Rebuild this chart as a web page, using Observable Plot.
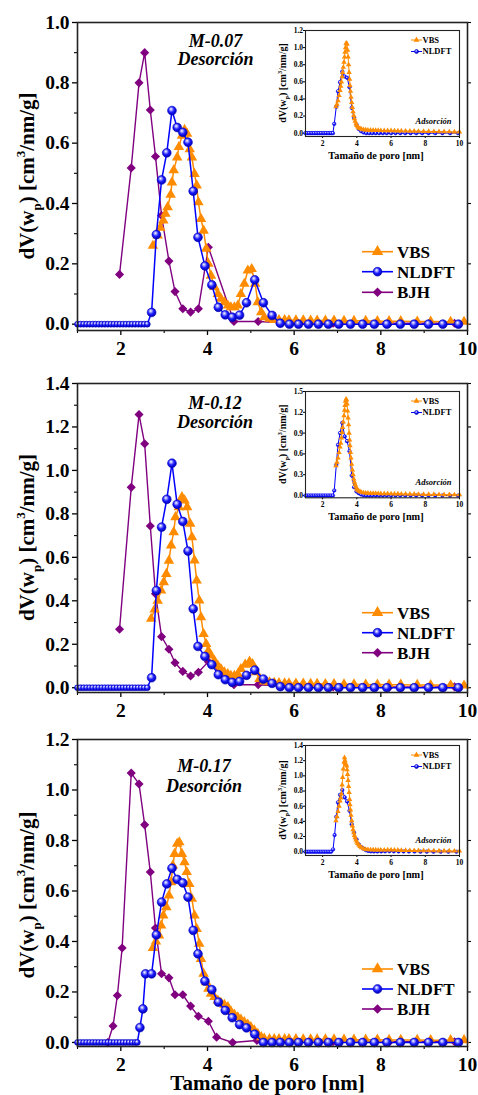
<!DOCTYPE html>
<html><head><meta charset="utf-8">
<script src="https://cdn.jsdelivr.net/npm/d3@7"></script>
<script src="https://cdn.jsdelivr.net/npm/@observablehq/plot@0.6"></script>
<style>
body{margin:0;background:#fff;}
#wrap{position:relative;width:478px;height:1095px;overflow:hidden;background:#fff;}
</style></head><body><div id="wrap"></div>
<script>
// ---------------- DATA ----------------
const seriesNames = ["VBS", "NLDFT", "BJH"];
const insetNames = ["VBS", "NLDFT"];
const sampleLabels = ["M-0.07", "M-0.12", "M-0.17"];
const modeMain = "Desorción";
const modeInset = "Adsorción";
const xTitle = "Tamaño de poro [nm]";
const xTicks = [2, 4, 6, 8, 10];
const xMinor = [1, 3, 5, 7, 9];
const yTicks1 = [0, 0.2, 0.4, 0.6, 0.8, 1.0];
const yTicks2 = [0, 0.2, 0.4, 0.6, 0.8, 1.0, 1.2, 1.4];
const yTicks3 = [0, 0.2, 0.4, 0.6, 0.8, 1.0, 1.2];
const insetTicks1 = [0, 0.2, 0.4, 0.6, 0.8, 1.0, 1.2];
const insetTicks2 = [0, 0.3, 0.6, 0.9, 1.2, 1.5];
const insetTicks3 = [0, 0.2, 0.4, 0.6, 0.8, 1.0, 1.2, 1.4];

// NLDFT (desorption) – panels 1 & 2 share the x grid
const nldftX12 = [1.00,1.07,1.14,1.21,1.28,1.35,1.42,1.49,1.56,1.63,1.70,1.77,1.84,1.91,1.98,2.05,2.12,2.19,2.26,2.33,2.40,2.47,2.54,2.61,
  2.71,2.82,2.94,3.06,3.18,3.30,3.43,3.55,3.67,3.78,3.94,4.10,4.25,4.41,4.57,4.74,4.90,5.09,5.29,5.49,5.68,
  5.89,6.10,6.33,6.56,6.79,7.03,7.30,7.58,7.85,8.14,8.45,8.77,9.10,9.43,9.79];
const nldftY1 = [0,0,0,0,0,0,0,0,0,0,0,0,0,0,0,0,0,0,0,0,0,0,0,0,
  0.039,0.297,0.478,0.568,0.708,0.652,0.636,0.603,0.441,0.288,0.193,0.130,0.056,0.031,0.023,0.030,0.071,0.147,0.071,0.029,0.003,
  0,0,0,0,0,0,0,0,0,0,0,0,0,0,0];
const nldftY2 = [0,0,0,0,0,0,0,0,0,0,0,0,0,0,0,0,0,0,0,0,0,0,0,0,
  0.046,0.447,0.739,0.867,1.033,0.844,0.765,0.629,0.363,0.190,0.144,0.106,0.060,0.037,0.025,0.029,0.057,0.081,0.040,0.020,0.005,
  0,0,0,0,0,0,0,0,0,0,0,0,0,0,0];
const nldftX3 = [1.00,1.07,1.14,1.21,1.28,1.35,1.42,1.49,1.56,1.63,1.70,1.77,1.84,1.91,1.98,2.05,2.12,2.19,2.26,2.33,2.38,
  2.44,2.51,2.57,2.71,2.82,2.94,3.06,3.18,3.30,3.43,3.55,3.67,3.78,3.94,4.10,4.25,4.41,4.57,4.74,4.90,5.09,5.29,
  5.49,5.68,5.89,6.10,6.33,6.56,6.79,7.03,7.30,7.58,7.85,8.14,8.45,8.77,9.10,9.43,9.79];
const nldftY3 = [0,0,0,0,0,0,0,0,0,0,0,0,0,0,0,0,0,0,0,0,0,
  0.059,0.133,0.272,0.272,0.426,0.556,0.628,0.690,0.646,0.632,0.576,0.444,0.351,0.243,0.209,0.160,0.127,0.098,0.071,0.058,0.033,0.000,
  0,0,0,0,0,0,0,0,0,0,0,0,0,0,0,0,0];

// BJH (desorption)
const bjhX12 = [1.97,2.24,2.42,2.55,2.68,2.80,2.94,3.11,3.25,3.43,3.61,3.79,4.02,4.61,5.17,5.90,6.90,8.20,9.70];
const bjhY1 = [0.165,0.518,0.800,0.900,0.710,0.556,0.360,0.209,0.108,0.051,0.040,0.051,0.255,0.009,0.009,0.004,0.003,0.003,0.003];
const bjhY2 = [0.269,0.922,1.257,1.123,0.744,0.432,0.235,0.177,0.115,0.075,0.054,0.071,0.120,0.014,0.014,0.005,0.004,0.004,0.004];
const bjhX3 = [1.70,1.82,1.92,2.03,2.24,2.42,2.55,2.68,2.80,2.94,3.11,3.25,3.43,3.61,3.79,4.02,4.21,4.58,5.14,5.90,6.90,8.20,9.70];
const bjhY3 = [0.000,0.065,0.186,0.374,1.067,1.024,0.862,0.675,0.453,0.272,0.256,0.189,0.189,0.144,0.104,0.084,0.021,0.000,0.008,0.004,0.003,0.003,0.003];

// VBS (desorption)
const vbsX1 = [2.74,2.85,2.91,2.98,3.03,3.08,3.15,3.18,3.22,3.30,3.34,3.41,3.47,3.53,3.59,3.64,3.70,3.75,3.79,3.85,3.91,3.97,
  4.02,4.08,4.16,4.24,4.31,4.39,4.47,4.54,4.62,4.70,4.77,4.85,4.93,5.02,5.10,5.16,5.24,5.31,5.43,5.54,
  5.65,5.78,5.88,6.04,6.21,6.38,6.53,6.72,6.92,7.15,7.38,7.65,7.92,8.19,8.46,8.84,9.15,9.61,9.92];
const vbsY1 = [0.260,0.294,0.320,0.344,0.366,0.388,0.429,0.470,0.510,0.553,0.587,0.625,0.644,0.631,0.580,0.553,0.498,0.460,0.404,0.349,0.310,0.250,
  0.200,0.161,0.123,0.100,0.084,0.073,0.062,0.056,0.056,0.062,0.100,0.134,0.178,0.183,0.134,0.073,0.040,0.023,0.018,0.014,
  0.014,0.014,0.013,0.013,0.013,0.012,0.012,0.012,0.012,0.011,0.011,0.011,0.010,0.010,0.010,0.009,0.009,0.008,0.008];
const vbsX2 = [2.70,2.78,2.85,2.93,2.99,3.05,3.11,3.16,3.22,3.26,3.34,3.41,3.47,3.53,3.60,3.64,3.70,3.75,3.81,3.85,3.91,3.97,
  4.02,4.08,4.16,4.24,4.31,4.39,4.47,4.54,4.62,4.70,4.77,4.87,4.97,5.04,5.12,5.20,5.31,5.43,
  5.54,5.65,5.78,5.88,6.04,6.21,6.38,6.53,6.72,6.92,7.15,7.38,7.65,7.92,8.19,8.46,8.84,9.15,9.61,9.92];
const vbsY2 = [0.317,0.360,0.400,0.447,0.486,0.524,0.585,0.655,0.716,0.785,0.831,0.877,0.862,0.831,0.755,0.693,0.586,0.493,0.401,0.324,0.247,0.201,
  0.170,0.148,0.124,0.101,0.086,0.071,0.063,0.055,0.055,0.063,0.086,0.106,0.120,0.109,0.071,0.040,0.029,0.025,
  0.022,0.021,0.020,0.020,0.019,0.019,0.018,0.018,0.017,0.017,0.016,0.016,0.015,0.015,0.014,0.014,0.013,0.012,0.011,0.010];
const vbsX3 = [2.74,2.81,2.88,2.93,2.98,3.05,3.11,3.16,3.20,3.24,3.30,3.35,3.41,3.47,3.52,3.58,3.64,3.70,3.75,3.81,3.85,3.91,3.97,
  4.02,4.08,4.16,4.24,4.31,4.39,4.47,4.54,4.62,4.70,4.77,4.85,4.93,5.00,5.08,5.16,5.24,5.31,
  5.43,5.54,5.65,5.78,5.88,6.04,6.21,6.38,6.53,6.72,6.92,7.15,7.38,7.65,7.92,8.19,8.46,8.84,9.15,9.61,9.92];
const vbsY3 = [0.374,0.400,0.424,0.463,0.503,0.536,0.582,0.635,0.701,0.747,0.787,0.793,0.747,0.714,0.675,0.628,0.569,0.503,0.450,0.391,0.331,0.272,0.239,
  0.213,0.193,0.180,0.166,0.157,0.149,0.140,0.123,0.110,0.100,0.091,0.081,0.071,0.061,0.048,0.034,0.021,0.015,
  0.013,0.013,0.013,0.013,0.013,0.013,0.012,0.012,0.012,0.012,0.012,0.011,0.011,0.011,0.011,0.010,0.010,0.010,0.009,0.009,0.009];

// Insets (adsorption)
const inNldftX12 = [1.00,1.10,1.20,1.30,1.40,1.50,1.60,1.70,1.80,1.90,2.00,2.10,2.20,2.30,2.40,2.50,2.60,
  2.68,2.80,2.90,3.02,3.15,3.29,3.43,3.57,3.70,3.84,3.98,4.11,4.25,4.39,
  4.55,4.72,4.90,5.10,5.30,5.52,5.75,6.00,6.26,6.54,6.83,7.14,7.47,7.82,8.19,8.58,9.00,9.45,9.92];
const inNldftY1 = [0,0,0,0,0,0,0,0,0,0,0,0,0,0,0,0,0,
  0.109,0.310,0.490,0.596,0.720,0.662,0.647,0.538,0.296,0.179,0.101,0.050,0.023,0.008,
  0,0,0,0,0,0,0,0,0,0,0,0,0,0,0,0,0,0,0];
const inNldftY2 = [0,0,0,0,0,0,0,0,0,0,0,0,0,0,0,0,0,
  0.072,0.442,0.730,0.900,1.048,0.851,0.784,0.640,0.288,0.120,0.058,0.034,0.014,0.004,
  0,0,0,0,0,0,0,0,0,0,0,0,0,0,0,0,0,0,0];
const inNldftX3 = [1.00,1.10,1.20,1.30,1.40,1.50,1.60,1.70,1.80,1.90,2.00,2.10,2.20,2.30,2.40,2.50,
  2.61,2.70,2.80,2.90,3.02,3.15,3.29,3.43,3.57,3.70,3.84,3.98,4.11,4.25,4.39,4.52,4.66,
  4.82,5.00,5.20,5.42,5.65,5.90,6.16,6.44,6.73,7.04,7.37,7.72,8.09,8.48,8.90,9.35,9.82];
const inNldftY3 = [0,0,0,0,0,0,0,0,0,0,0,0,0,0,0,0,
  0.030,0.220,0.460,0.650,0.750,0.813,0.716,0.663,0.540,0.362,0.250,0.163,0.097,0.062,0.040,0.022,0.010,
  0.005,0.003,0.003,0.004,0.005,0.006,0.005,0.004,0.003,0.002,0.002,0.001,0.001,0,0,0,0];
const inVbsX = [2.78,2.84,2.90,2.96,3.02,3.06,3.10,3.14,3.17,3.21,3.25,3.28,3.31,3.34,3.37,3.40,3.43,3.46,3.49,3.52,3.55,3.58,3.60,3.63,3.66,
  3.70,3.74,3.78,3.82,3.86,3.90,3.95,4.00,4.05,4.11,4.19,4.27,4.39,4.52,
  4.65,4.80,4.95,5.10,5.25,5.40,5.60,5.80,6.00,6.20,6.40,6.60,6.85,7.10,7.35,7.60,7.90,8.20,8.50,8.80,9.10,9.40,9.70,10.00];
const inVbsY1 = [0.310,0.340,0.380,0.440,0.500,0.550,0.600,0.660,0.710,0.770,0.830,0.890,0.947,1.000,1.050,1.050,1.040,0.970,0.890,0.800,0.710,0.630,0.557,0.490,0.420,
  0.360,0.300,0.250,0.206,0.170,0.140,0.110,0.090,0.075,0.062,0.054,0.047,0.042,0.039,
  0.036,0.035,0.034,0.033,0.032,0.031,0.030,0.030,0.029,0.028,0.027,0.026,0.025,0.024,0.023,0.022,0.021,0.020,0.019,0.018,0.017,0.016,0.015,0.014];
const inVbsY2 = [0.430,0.480,0.540,0.620,0.700,0.755,0.830,0.910,0.980,1.060,1.150,1.230,1.300,1.360,1.390,1.380,1.320,1.220,1.120,1.020,0.900,0.800,0.720,0.620,0.540,
  0.450,0.370,0.300,0.240,0.195,0.159,0.125,0.096,0.080,0.066,0.055,0.047,0.040,0.036,
  0.033,0.032,0.031,0.030,0.029,0.028,0.027,0.026,0.025,0.024,0.023,0.022,0.021,0.020,0.019,0.018,0.017,0.016,0.015,0.014,0.013,0.012,0.011,0.010];
const inVbsY3 = [0.410,0.460,0.530,0.600,0.670,0.710,0.760,0.880,0.980,1.090,1.180,1.240,1.200,1.160,1.150,1.130,1.080,1.020,0.940,0.860,0.780,0.690,0.620,0.550,0.480,
  0.410,0.340,0.290,0.250,0.215,0.186,0.155,0.128,0.110,0.088,0.070,0.053,0.040,0.031,
  0.027,0.025,0.024,0.023,0.022,0.022,0.022,0.023,0.024,0.022,0.020,0.018,0.017,0.016,0.015,0.014,0.013,0.012,0.012,0.011,0.010,0.010,0.009,0.009];

// ---------------- DRAWING ----------------
const FONT = '"Liberation Serif", "Times New Roman", serif';
const ORANGE = "#FF8C00", BLUE = "#0000FF", PURPLE = "#800080";
const rows = (xs, ys) => xs.map((x, i) => ({x, y: ys[i]}));
const wrap = document.getElementById("wrap");

// gradient for the "ball" circles
const defsSvg = d3.select(wrap).append("svg").attr("width", 0).attr("height", 0)
  .style("position", "absolute").style("left", 0).style("top", 0);
const rg = defsSvg.append("defs").append("radialGradient").attr("id", "ball")
  .attr("cx", "0.45").attr("cy", "0.42").attr("r", "0.6").attr("fx", "0.38").attr("fy", "0.32");
rg.append("stop").attr("offset", "0%").attr("stop-color", "#ffffff");
rg.append("stop").attr("offset", "22%").attr("stop-color", "#a8a8ff");
rg.append("stop").attr("offset", "55%").attr("stop-color", "#1a1aff");
rg.append("stop").attr("offset", "100%").attr("stop-color", "#0000a8");

function place(svg, left, top) {
  svg.style.position = "absolute";
  svg.style.left = left + "px";
  svg.style.top = top + "px";
  svg.style.background = "transparent";
  svg.style.overflow = "visible";
  svg.style.maxWidth = "none";
  wrap.appendChild(svg);
  return d3.select(svg);
}

function yTitleText(sel, x, y, size) {
  const t = sel.append("text").attr("transform", `translate(${x},${y}) rotate(-90)`)
    .attr("text-anchor", "middle").attr("font-size", size).attr("font-weight", "bold")
    .attr("font-family", FONT).attr("fill", "#000");
  t.append("tspan").text("dV(w");
  t.append("tspan").attr("font-size", size * 0.62).attr("dy", size * 0.32).text("p");
  t.append("tspan").attr("dy", -size * 0.32).text(")\u00a0[cm");
  t.append("tspan").attr("font-size", size * 0.62).attr("dy", -size * 0.42).text("3");
  t.append("tspan").attr("dy", size * 0.42).text("/nm/g]");
}

function symPath(type, r) {
  const s = {triangle: d3.symbolTriangle, circle: d3.symbolCircle, diamond: d3.symbolDiamond2}[type];
  return d3.symbol(s, Math.PI * r * r)();
}

function legend(sel, x1, x2, tx, ys, names, styles, size, rs, lw) {
  names.forEach((n, i) => {
    const st = styles[i], y = ys[i];
    sel.append("line").attr("x1", x1).attr("x2", x2).attr("y1", y).attr("y2", y)
      .attr("stroke", st.color).attr("stroke-width", lw);
    sel.append("path").attr("d", symPath(st.sym, rs[i]))
      .attr("transform", `translate(${(x1 + x2) / 2},${y})`)
      .attr("fill", st.sym === "circle" ? "url(#ball)" : st.color)
      .attr("stroke", st.sym === "circle" ? "#0000c0" : "none").attr("stroke-width", 0.6);
    sel.append("text").attr("x", tx).attr("y", y).attr("dy", "0.35em").attr("text-anchor", "start")
      .attr("font-family", FONT).attr("font-weight", "bold").attr("font-size", size)
      .attr("fill", "#000").text(n);
  });
}

const mainStyles = [{color: ORANGE, sym: "triangle"}, {color: BLUE, sym: "circle"}, {color: PURPLE, sym: "diamond"}];

function mainPanel(o) {
  const nl = rows(o.nx, o.ny);
  const svg = Plot.plot({
    width: 478, height: o.height,
    marginLeft: 77, marginRight: 11, marginTop: o.mT, marginBottom: o.mB,
    x: {domain: [1, 10]},
    y: {domain: [o.yMin, o.yMax]},
    style: {fontFamily: FONT, fontWeight: "bold", background: "transparent"},
    marks: [
      Plot.axisX({ticks: xTicks, tickSize: 5, tickPadding: 6, fontSize: 19.5, fontFamily: FONT, fontWeight: "bold", label: null, strokeWidth: 1.3}),
      Plot.axisX({ticks: xMinor, tickSize: 3, tickFormat: () => "", label: null, strokeWidth: 1.1}),
      Plot.axisY({ticks: o.yTicks, tickSize: 5, tickPadding: 3, fontSize: 19.5, fontFamily: FONT, fontWeight: "bold", tickFormat: d3.format(".1f"), label: null, strokeWidth: 1.3}),
      Plot.axisY({ticks: o.yMinor, tickSize: 3, tickFormat: () => "", label: null, strokeWidth: 1.1}),
      Plot.axisY({anchor: "right", ticks: o.yTicks, tickSize: 3, tickFormat: () => "", label: null, strokeWidth: 1.1}),
      Plot.line(rows(o.bx, o.by), {x: "x", y: "y", stroke: PURPLE, strokeWidth: 1.4}),
      Plot.dot(rows(o.bx, o.by), {x: "x", y: "y", symbol: "diamond2", r: 4.1, fill: PURPLE}),
      Plot.line(rows(o.vx, o.vy), {x: "x", y: "y", stroke: ORANGE, strokeWidth: 1.5}),
      Plot.dot(rows(o.vx, o.vy), {x: "x", y: "y", symbol: "triangle", r: 3.9, fill: ORANGE}),
      Plot.line(nl, {x: "x", y: "y", stroke: BLUE, strokeWidth: 1.5}),
      Plot.dot(nl, {x: "x", y: "y", filter: d => d.y === 0 && d.x < 2.65, r: 3, fill: "url(#ball)", stroke: "#0000c0", strokeWidth: 0.5}),
      Plot.dot(nl, {x: "x", y: "y", filter: d => !(d.y === 0 && d.x < 2.65), r: 4.4, fill: "url(#ball)", stroke: "#0000c0", strokeWidth: 0.6}),
      Plot.frame({stroke: "#222", strokeWidth: 1.6})
    ]
  });
  const sel = place(svg, 0, o.top);
  yTitleText(sel, 34, o.yTitleY, 21);
  const ann = sel.append("text").attr("text-anchor", "middle").attr("font-family", FONT)
    .attr("font-weight", "bold").attr("font-style", "italic").attr("font-size", 18).attr("fill", "#000");
  ann.append("tspan").attr("x", o.annX).attr("y", o.annY1).text(o.label);
  ann.append("tspan").attr("x", o.annX).attr("y", o.annY2).text(modeMain);
  legend(sel, 362, 393, 397, o.legY, seriesNames, mainStyles, 17, [4.3, 4.4, 4.3], 1.6);
  if (o.xTitle) {
    sel.append("text").attr("x", 267.5).attr("y", o.xTitleY).attr("text-anchor", "middle")
      .attr("font-family", FONT).attr("font-weight", "bold").attr("font-size", 21).attr("fill", "#000").text(xTitle);
  }
}

function insetPanel(o) {
  const nl = rows(o.nx, o.ny), vb = rows(inVbsX, o.vy);
  const svg = Plot.plot({
    width: 220, height: 170,
    marginLeft: 55, marginRight: 11, marginTop: o.mT, marginBottom: o.mB,
    x: {domain: [1, 10]},
    y: {domain: [o.yMin, o.yMax]},
    style: {fontFamily: FONT, fontWeight: "bold", background: "transparent"},
    marks: [
      Plot.axisX({ticks: xTicks, tickSize: 2, tickPadding: 2, fontSize: 7.5, fontFamily: FONT, fontWeight: "bold", label: null}),
      Plot.axisY({ticks: o.yTicks, tickSize: 2, tickPadding: 0.5, fontSize: 7.5, fontFamily: FONT, fontWeight: "bold", tickFormat: d3.format(".1f"), label: null}),
      Plot.line(nl, {x: "x", y: "y", stroke: BLUE, strokeWidth: 1}),
      Plot.dot(nl, {x: "x", y: "y", r: 1.8, fill: "url(#ball)", stroke: BLUE, strokeWidth: 0.5}),
      Plot.line(vb, {x: "x", y: "y", stroke: ORANGE, strokeWidth: 1}),
      Plot.dot(vb, {x: "x", y: "y", symbol: "triangle", r: 2, fill: ORANGE}),
      Plot.frame({stroke: "#222", strokeWidth: 1.1})
    ]
  });
  const sel = place(svg, 250, o.top);
  const fb = 170 - o.mB;
  yTitleText(sel, 36, (o.mT + fb) / 2, 10);
  sel.append("text").attr("x", 126).attr("y", fb + 23).attr("text-anchor", "middle")
    .attr("font-family", FONT).attr("font-weight", "bold").attr("font-size", 10.3).attr("fill", "#000").text(xTitle);
  sel.append("text").attr("x", 201.5).attr("y", fb - 12).attr("text-anchor", "end")
    .attr("font-family", FONT).attr("font-weight", "bold").attr("font-style", "italic").attr("font-size", 8.5).attr("fill", "#000").text(modeInset);
  legend(sel, 161, 172, 172.5, [o.mT + 10, o.mT + 21.5], insetNames, mainStyles.slice(0, 2), 8.5, [2.2, 2], 1);
}

mainPanel({top: 0, height: 360, mT: 22, mB: 30, yMin: -0.021, yMax: 1.0, yTicks: yTicks1, yMinor: [0.1,0.3,0.5,0.7,0.9],
  nx: nldftX12, ny: nldftY1, bx: bjhX12, by: bjhY1, vx: vbsX1, vy: vbsY1,
  yTitleY: 176, label: sampleLabels[0], annX: 215.5, annY1: 46.5, annY2: 64.5, legY: [251.7, 271.7, 292.3]});
mainPanel({top: 360, height: 360, mT: 23, mB: 28, yMin: -0.022, yMax: 1.4, yTicks: yTicks2, yMinor: [0.1,0.3,0.5,0.7,0.9,1.1,1.3],
  nx: nldftX12, ny: nldftY2, bx: bjhX12, by: bjhY2, vx: vbsX2, vy: vbsY2,
  yTitleY: 177.5, label: sampleLabels[1], annX: 215, annY1: 49, annY2: 67.5, legY: [252.7, 272.7, 292.7]});
mainPanel({top: 720, height: 375, mT: 19, mB: 49, yMin: -0.016, yMax: 1.2, yTicks: yTicks3, yMinor: [0.1,0.3,0.5,0.7,0.9,1.1],
  nx: nldftX3, ny: nldftY3, bx: bjhX3, by: bjhY3, vx: vbsX3, vy: vbsY3,
  yTitleY: 175, label: sampleLabels[2], annX: 204, annY1: 52.3, annY2: 71.7, legY: [249, 269, 289],
  xTitle: true, xTitleY: 369.5});

insetPanel({top: 0, mT: 30, mB: 34, yMin: -0.039, yMax: 1.2, yTicks: insetTicks1, nx: inNldftX12, ny: inNldftY1, vy: inVbsY1});
insetPanel({top: 360, mT: 31, mB: 32.7, yMin: -0.033, yMax: 1.5, yTicks: insetTicks2, nx: inNldftX12, ny: inNldftY2, vy: inVbsY2});
insetPanel({top: 725, mT: 20, mB: 40, yMin: -0.05, yMax: 1.4, yTicks: insetTicks3, nx: inNldftX3, ny: inNldftY3, vy: inVbsY3});
</script></body></html>
